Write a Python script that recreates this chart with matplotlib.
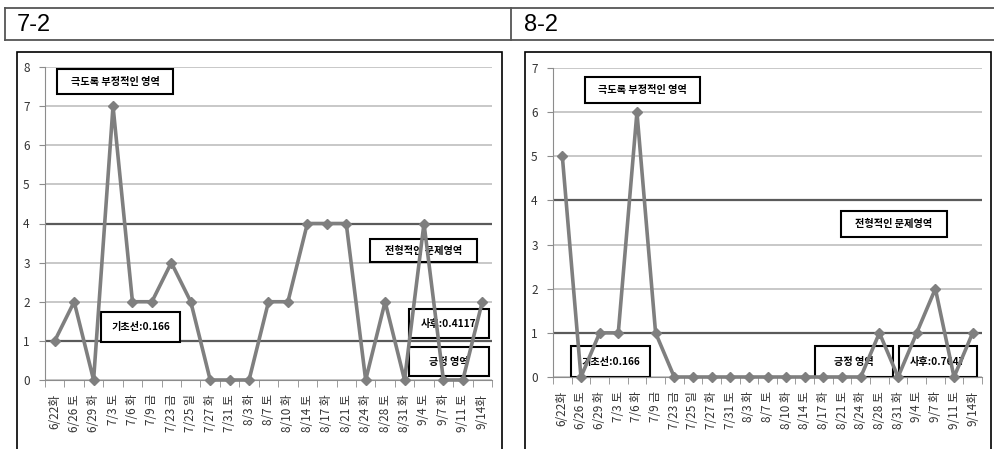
import numpy as np
import matplotlib
matplotlib.use("Agg")
import matplotlib.pyplot as plt
from matplotlib.patches import Rectangle
from matplotlib.lines import Line2D

plt.rcParams['font.family'] = ['Noto Sans CJK KR', 'DejaVu Sans']

# session dates (with weekday) shared by both panels
dates = ["6/22화", "6/26 토", "6/29 화", "7/3 토", "7/6 화", "7/9 금", "7/23 금",
         "7/25 일", "7/27 화", "7/31 토", "8/3 화", "8/7 토", "8/10 화", "8/14 토",
         "8/17 화", "8/21 토", "8/24 화", "8/28 토", "8/31 화", "9/4 토", "9/7 화",
         "9/11 토", "9/14화"]

# problem-behaviour counts per session
counts_72 = [1, 2, 0, 7, 2, 2, 3, 2, 0, 0, 0, 2, 2, 4, 4, 4, 0, 2, 0, 4, 0, 0, 2]
counts_82 = [5, 0, 1, 1, 6, 1, 0, 0, 0, 0, 0, 0, 0, 0, 0, 0, 0, 1, 0, 1, 2, 0, 1]

titles = ["7-2", "8-2"]
upper_limit = 4   # above: strongly negative zone
lower_limit = 1   # below: positive zone

W, H = 995, 449
fig = plt.figure(figsize=(W / 100, H / 100), dpi=100)


def fx(x):
    return x / W


def fy(y):
    return 1 - y / H


def px_axes(x0, y0, x1, y1):
    return fig.add_axes([fx(x0), fy(y1), fx(x1) - fx(x0), fy(y0) - fy(y1)])


# header row of the table
hdr = dict(color="#555555", lw=1.3, transform=fig.transFigure)
fig.add_artist(Line2D([fx(5), fx(995)], [fy(8), fy(8)], **hdr))
fig.add_artist(Line2D([fx(5), fx(995)], [fy(40), fy(40)], **hdr))
fig.add_artist(Line2D([fx(5), fx(5)], [fy(8), fy(40)], **hdr))
fig.add_artist(Line2D([fx(511), fx(511)], [fy(8), fy(40)], **hdr))
fig.text(fx(17), fy(25), titles[0], fontsize=17, va="center", ha="left",
         family="Liberation Sans")
fig.text(fx(524), fy(25), titles[1], fontsize=17, va="center", ha="left",
         family="Liberation Sans")

# chart frames
for x0, x1 in [(17, 502), (525, 991)]:
    fig.add_artist(Rectangle((fx(x0), fy(460)), fx(x1) - fx(x0), fy(52) - fy(460),
                             transform=fig.transFigure, fill=False,
                             ec="black", lw=1.2))


def box(ax, x0, y0, x1, y1, label):
    ax.add_artist(Rectangle((fx(x0), fy(y1)), fx(x1) - fx(x0), fy(y0) - fy(y1),
                            transform=fig.transFigure, fc="white", ec="black",
                            lw=1.5, zorder=2.5, clip_on=False))
    ax.text(fx((x0 + x1) / 2), fy((y0 + y1) / 2), label, transform=fig.transFigure,
            ha="center", va="center", fontsize=7.3, fontweight="bold",
            zorder=2.6, clip_on=False)


def panel(ax, counts, ymax):
    x = np.arange(len(dates))
    ax.set_xlim(-0.5, len(dates) - 0.5)
    ax.set_ylim(0, ymax)
    ax.set_yticks(range(ymax + 1))
    ax.yaxis.grid(True, color="#bfbfbf", lw=1.2)
    ax.set_axisbelow(True)
    for s in ["top", "right"]:
        ax.spines[s].set_visible(False)
    for s in ["left", "bottom"]:
        ax.spines[s].set_color("#8c8c8c")
    ax.axhline(upper_limit, color="#5a5a5a", lw=1.6, zorder=2)
    ax.axhline(lower_limit, color="#5a5a5a", lw=1.6, zorder=2)
    ax.plot(x, counts, color="#7f7f7f", lw=2.6, marker="D", ms=5,
            mec="#7f7f7f", mfc="#7f7f7f", zorder=3, clip_on=False)
    ax.set_xticks(x)
    ax.set_xticklabels(dates, rotation=90, fontsize=8.5, color="#333333")
    ax.set_xticks(np.arange(len(dates) + 1) - 0.5, minor=True)
    ax.tick_params(axis="x", which="major", length=0, pad=10)
    ax.tick_params(axis="x", which="minor", length=5, color="#8c8c8c")
    ax.tick_params(axis="y", length=4, color="#8c8c8c", labelsize=8.5, pad=7,
                   labelcolor="#333333")


ax1 = px_axes(45, 67, 492, 380)
panel(ax1, counts_72, 8)
box(ax1, 57, 69, 173, 94, "극도록 부정적인 영역")
box(ax1, 370, 239, 477, 262, "전형적인 문제영역")
box(ax1, 101, 312, 180, 342, "기초선:0.166")
box(ax1, 409, 309, 489, 338, "사후:0.4117")
box(ax1, 409, 347, 489, 376, "긍정 영역")

ax2 = px_axes(553, 68, 982, 377)
panel(ax2, counts_82, 7)
box(ax2, 585, 77, 700, 103, "극도록 부정적인 영역")
box(ax2, 841, 211, 947, 237, "전형적인 문제영역")
box(ax2, 571, 346, 650, 377, "기초선:0.166")
box(ax2, 815, 346, 893, 377, "긍정 영역")
box(ax2, 899, 346, 977, 377, "사후:0.7647")

fig.savefig("out.png", dpi=100)
